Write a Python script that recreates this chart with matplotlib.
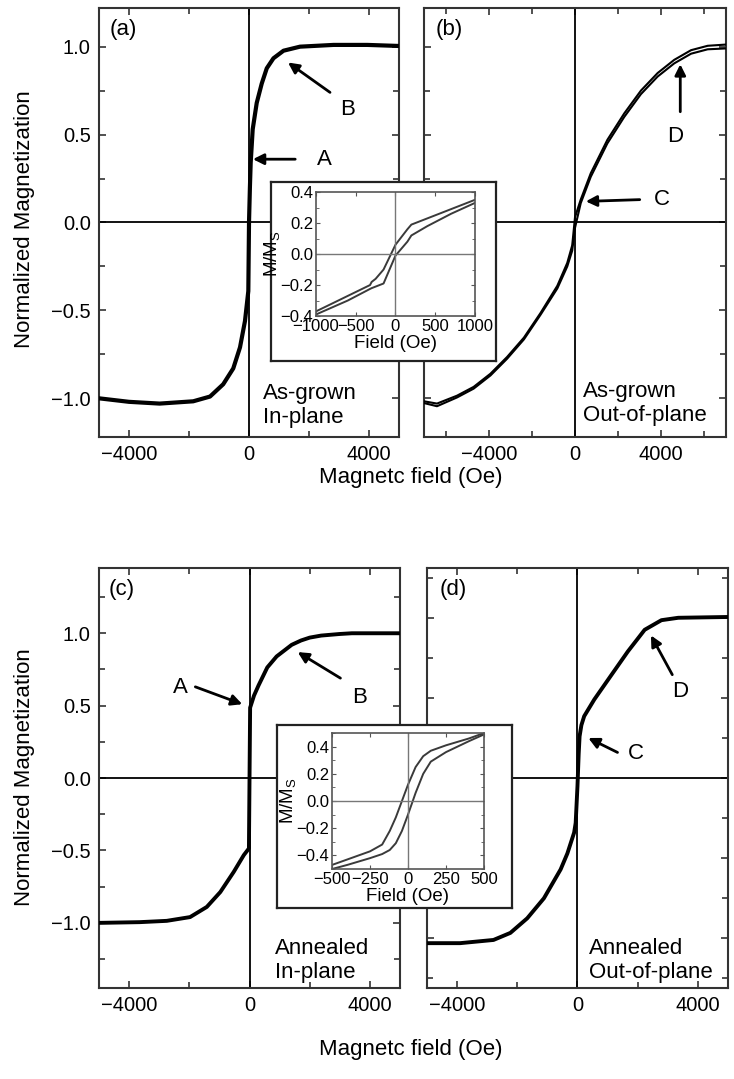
import matplotlib
matplotlib.use("Agg")
import matplotlib.pyplot as plt
from matplotlib.ticker import MultipleLocator

plt.rcParams["font.family"] = ["Liberation Sans", "DejaVu Sans"]
plt.rcParams["mathtext.fontset"] = "custom"
plt.rcParams["mathtext.rm"] = "Liberation Sans"

# ---- data ----
# (a) as-grown, in-plane
a_field = [-5000, -4000, -2980, -1860, -1300, -860, -525, -300, -134, -23, 0, 30, 56, 123,
           257, 424, 592, 815, 1150, 1700, 2820, 3940, 5000]
a_m = [-1.00, -1.02, -1.03, -1.017, -0.99, -0.92, -0.83, -0.71, -0.56, -0.39, 0.0, 0.20, 0.34, 0.53,
       0.68, 0.79, 0.877, 0.934, 0.977, 1.0, 1.01, 1.01, 1.004]

# (b) as-grown, out-of-plane (two branches)
b_field = [-7000, -6400, -5470, -4700, -3920, -3150, -2370, -1600, -820, -360, -130, 0,
           265, 730, 1500, 2280, 3055, 3830, 4600, 5380, 6150, 7000]
b_down = [-1.017, -1.03, -0.985, -0.935, -0.86, -0.765, -0.655, -0.515, -0.36, -0.23, -0.13, 0.03,
          0.13, 0.28, 0.47, 0.62, 0.75, 0.85, 0.925, 0.98, 1.005, 1.012]
b_up = [-1.027, -1.045, -0.995, -0.945, -0.87, -0.775, -0.665, -0.525, -0.375, -0.25, -0.16, -0.03,
        0.11, 0.26, 0.45, 0.60, 0.73, 0.83, 0.905, 0.96, 0.985, 0.99]

# (c) annealed, in-plane
c_field = [-5000, -3650, -2750, -1975, -1420, -970, -525, -190, -20, 0, 20, 150, 300, 590, 900,
           1150, 1400, 1710, 2000, 2380, 3000, 3400, 5000]
c_m = [-1.0, -0.995, -0.986, -0.96, -0.89, -0.787, -0.648, -0.532, -0.486, 0.0, 0.486, 0.57, 0.64, 0.764,
       0.84, 0.88, 0.92, 0.95, 0.97, 0.984, 0.995, 1.0, 1.0]

# (d) annealed, out-of-plane
d_field = [-5000, -3900, -2790, -2230, -1670, -1115, -560, -335, -111, -60, 0, 40, 70, 130, 223,
           558, 1115, 1674, 2232, 2789, 3347, 5000]
d_m = [-1.03, -1.03, -1.01, -0.966, -0.875, -0.75, -0.57, -0.47, -0.34, -0.28, -0.05, 0.15, 0.26,
       0.33, 0.386, 0.49, 0.64, 0.79, 0.925, 0.985, 1.0, 1.005]

# inset of top row (as-grown, low field)
ia_field = [-1000, -600, -320, -300, -250, -150, 0, 150, 200, 400, 700, 1000]
ia_down = [-0.37, -0.27, -0.20, -0.18, -0.16, -0.10, 0.06, 0.16, 0.19, 0.23, 0.29, 0.35]
ia_up = [-0.39, -0.30, -0.225, -0.22, -0.21, -0.19, -0.01, 0.08, 0.12, 0.18, 0.26, 0.33]

# inset of bottom row (annealed, low field)
ic_field = [-500, -400, -250, -170, -120, -80, -40, 0, 50, 100, 150, 250, 400, 500]
ic_down = [-0.47, -0.43, -0.37, -0.32, -0.22, -0.12, 0.0, 0.12, 0.25, 0.33, 0.37, 0.41, 0.46, 0.50]
ic_up = [-0.50, -0.47, -0.42, -0.39, -0.36, -0.31, -0.22, -0.10, 0.06, 0.20, 0.29, 0.36, 0.44, 0.49]

xticks_main = [-4000, 0, 4000]
yticks_main = [-1.0, -0.5, 0.0, 0.5, 1.0]

SPINE = "#333333"
TICK_FS = 14.5
TEXT_FS = 16


def style_axes(ax, fs=TICK_FS, lw=1.5, major=5, minor=4):
    for s in ax.spines.values():
        s.set_linewidth(lw)
        s.set_color(SPINE)
    ax.tick_params(which="both", direction="in", top=True, right=True,
                   color=SPINE, width=1.2, labelsize=fs, pad=6)
    ax.tick_params(which="major", length=major)
    ax.tick_params(which="minor", length=minor)


def fmt(v):
    return f"{v:.1f}".replace("-", "\u2212")


fig = plt.figure(figsize=(7.34, 10.79), dpi=100)

rects = {
    "a": [0.1349, 0.595, 0.4087, 0.3976],
    "b": [0.5777, 0.595, 0.4114, 0.3976],
    "c": [0.1349, 0.0843, 0.4101, 0.3892],
    "d": [0.5817, 0.0843, 0.4101, 0.3892],
}
axs = {k: fig.add_axes(r) for k, r in rects.items()}

# main curves
axs["a"].plot(a_field, a_m, color="k", lw=3.0, zorder=3)
axs["b"].plot(b_field, b_down, color="k", lw=1.5, zorder=3)
axs["b"].plot(b_field, b_up, color="k", lw=1.5, zorder=3)
axs["c"].plot(c_field, c_m, color="k", lw=2.8, zorder=3)
axs["d"].plot(d_field, d_m, color="k", lw=2.8, zorder=3)

limits = {
    "a": ((-5000, 5000), (-1.22, 1.22)),
    "b": ((-7000, 7000), (-1.22, 1.22)),
    "c": ((-5000, 5000), (-1.45, 1.45)),
    "d": ((-5000, 5000), (-1.31, 1.31)),
}
for k, ax in axs.items():
    (x0, x1), (y0, y1) = limits[k]
    ax.set_xlim(x0, x1)
    ax.set_ylim(y0, y1)
    ax.axhline(0, color="k", lw=1.3, zorder=2)
    ax.axvline(0, color="k", lw=1.3, zorder=2)
    style_axes(ax)
    ax.set_xticks(xticks_main)
    ax.set_xticklabels([f"{v}".replace("-", "\u2212") for v in xticks_main])
    ax.xaxis.set_minor_locator(MultipleLocator(2000))
    ax.set_yticks(yticks_main)
    ax.yaxis.set_minor_locator(MultipleLocator(0.25))
    if k in ("a", "c"):
        ax.set_yticklabels([fmt(v) for v in yticks_main])
    else:
        ax.set_yticklabels([])

# panel letters and sample descriptions
labels = {"a": ("(a)", 0.037, "As-grown\nIn-plane", 0.545, 0.02),
          "b": ("(b)", 0.040, "As-grown\nOut-of-plane", 0.525, 0.025),
          "c": ("(c)", 0.033, "Annealed\nIn-plane", 0.585, 0.012),
          "d": ("(d)", 0.043, "Annealed\nOut-of-plane", 0.538, 0.012)}
for k, (tag, tx, desc, dx, dy) in labels.items():
    ax = axs[k]
    ax.text(tx, 0.975, tag, transform=ax.transAxes, fontsize=TEXT_FS, va="top", ha="left")
    ax.text(dx, dy, desc, transform=ax.transAxes, fontsize=TEXT_FS, va="bottom", ha="left",
            linespacing=1.2)

# arrows: (axes key, letter, text xy, tail xy, tip xy)
arrows = [
    ("a", "A", (2500, 0.36), (1540, 0.36), (130, 0.36)),
    ("a", "B", (3300, 0.64), (2700, 0.74), (1300, 0.91)),
    ("b", "C", (4050, 0.13), (3000, 0.13), (500, 0.12)),
    ("b", "D", (4650, 0.49), (4880, 0.63), (4880, 0.90)),
    ("c", "A", (-2300, 0.625), (-1800, 0.63), (-240, 0.51)),
    ("c", "B", (3660, 0.555), (3020, 0.69), (1600, 0.87)),
    ("d", "C", (1950, 0.155), (1330, 0.16), (360, 0.25)),
    ("d", "D", (3400, 0.54), (3150, 0.645), (2440, 0.89)),
]
for k, letter, txy, tail, tip in arrows:
    ax = axs[k]
    ax.annotate("", xy=tip, xytext=tail,
                arrowprops=dict(arrowstyle="-|>", color="k", lw=2.0, mutation_scale=16,
                                shrinkA=0, shrinkB=0), zorder=5)
    ax.text(txy[0], txy[1], letter, fontsize=TEXT_FS, ha="center", va="center", zorder=5)

# axis labels
for yc in (0.797, 0.280):
    fig.text(0.033, yc, "Normalized Magnetization", rotation=90, fontsize=TEXT_FS,
             ha="center", va="center")
fig.text(0.559, 0.557, "Magnetc field (Oe)", fontsize=TEXT_FS, ha="center", va="center")
fig.text(0.559, 0.027, "Magnetc field (Oe)", fontsize=TEXT_FS, ha="center", va="center")


def add_inset(frame_rect, ax_rect, field, down, up, xlim, ylim, xt, yt):
    frame = fig.add_axes(frame_rect, zorder=10)
    frame.set_facecolor("white")
    frame.set_xticks([])
    frame.set_yticks([])
    for s in frame.spines.values():
        s.set_linewidth(1.6)
        s.set_color("#222222")
    ins = fig.add_axes(ax_rect, zorder=11)
    ins.plot(field, down, color="#3a3a3a", lw=1.4)
    ins.plot(field, up, color="#3a3a3a", lw=1.4)
    ins.axhline(0, color="#777777", lw=1.0)
    ins.axvline(0, color="#777777", lw=1.0)
    ins.set_xlim(*xlim)
    ins.set_ylim(*ylim)
    for s in ins.spines.values():
        s.set_linewidth(1.2)
        s.set_color("#555555")
    ins.tick_params(which="both", direction="in", top=True, right=True, color="#555555",
                    labelsize=12, pad=2)
    ins.tick_params(which="major", length=3)
    ins.tick_params(which="minor", length=2)
    ins.set_xticks(xt)
    ins.set_xticklabels([f"{v}".replace("-", "\u2212") for v in xt])
    ins.set_yticks(yt)
    ins.set_yticklabels([fmt(v) for v in yt])
    ins.xaxis.set_minor_locator(MultipleLocator(xt[1] - xt[0]))
    ins.yaxis.set_minor_locator(MultipleLocator((yt[1] - yt[0]) / 2))
    ins.set_xlabel("Field (Oe)", fontsize=13.5, labelpad=1)
    ins.set_ylabel(r"M/M$_\mathregular{S}$", fontsize=13.5, labelpad=-2)
    return ins


add_inset([0.3692, 0.6654, 0.3065, 0.1659], [0.4305, 0.7071, 0.2166, 0.1149],
          ia_field, ia_down, ia_up, (-1000, 1000), (-0.4, 0.4),
          [-1000, -500, 0, 500, 1000], [-0.4, -0.2, 0.0, 0.2, 0.4])
add_inset([0.3774, 0.1585, 0.3202, 0.1696], [0.4523, 0.1946, 0.2071, 0.1260],
          ic_field, ic_down, ic_up, (-500, 500), (-0.5, 0.5),
          [-500, -250, 0, 250, 500], [-0.4, -0.2, 0.0, 0.2, 0.4])

fig.savefig("out.png", dpi=100)
